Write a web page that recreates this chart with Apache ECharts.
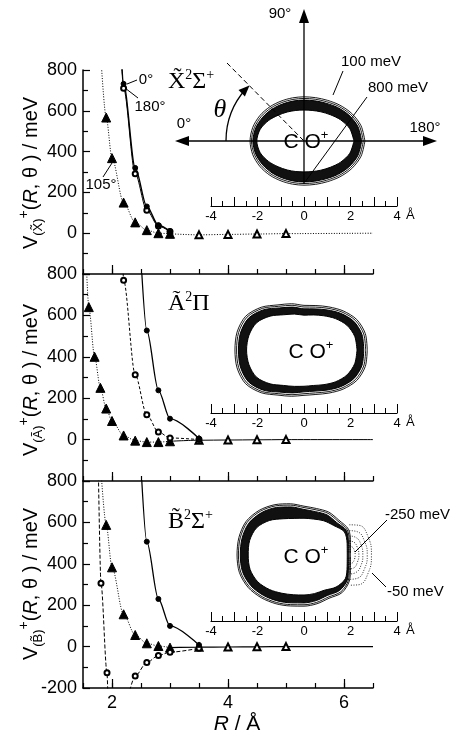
<!DOCTYPE html>
<html>
<head>
<meta charset="utf-8">
<script src="https://cdn.jsdelivr.net/npm/echarts@6/dist/echarts.min.js"></script>
<style>
  html, body { margin: 0; background: #fff; }
  #chart { width: 460px; height: 738px; }
</style>
</head>
<body>
<div id="chart"></div>
<script>
// ---- potential curves, R in Angstrom, V in meV ----
// X~ 2Sigma+ : 0 deg (filled circles), 180 deg (open circles), 105 deg (triangles)
const X_R_0 = [2.16, 2.2, 2.4, 2.6, 2.8, 3.0];
const X_V_0 = [870, 732, 320, 131, 39, 10];
const X_R_180 = [2.16, 2.2, 2.4, 2.6, 2.8, 3.0];
const X_V_180 = [850, 710, 292, 112, 35, 8];
const X_R_105 = [1.8, 1.9, 2.0, 2.2, 2.4, 2.6, 2.8, 3.0];
const X_V_105 = [900, 567, 368, 150, 53, 15, 0, -3];
const X_R_LONG = [3.0, 3.5, 4.0, 4.5, 5.0, 6.5];
const X_V_LONG = [-3, -8, -6, -4, -2, 0];

// A~ 2Pi
const A_R_CIRC = [2.5, 2.6, 2.8, 3.0, 3.5];
const A_V_CIRC = [870, 527, 238, 101, 5];
const A_R_OPEN = [2.18, 2.2, 2.4, 2.6, 2.8, 3.0, 3.5];
const A_V_OPEN = [900, 770, 313, 120, 37, 8, 0];
const A_R_TRI = [1.55, 1.6, 1.7, 1.8, 1.9, 2.0, 2.2, 2.4, 2.6, 2.8, 3.0];
const A_V_TRI = [900, 640, 400, 250, 150, 90, 20, -5, -12, -12, -8];
const A_R_LONG = [3.0, 3.5, 4.0, 4.5, 5.0, 6.5];
const A_V_LONG = [-8, -3, -2, -1, 0, 0];

// B~ 2Sigma+
const B_R_CIRC = [2.5, 2.6, 2.8, 3.0, 3.5];
const B_V_CIRC = [870, 507, 230, 100, 8];
const B_R_TRI = [1.8, 1.9, 2.0, 2.2, 2.4, 2.6, 2.8, 3.0];
const B_V_TRI = [890, 588, 383, 156, 56, 16, 3, -5];
const B_R_OPEN_IN = [1.765, 1.81, 1.914, 1.93];
const B_V_OPEN_IN = [850, 306, -126, -250];
const B_R_OPEN_OUT = [2.28, 2.4, 2.6, 2.8, 3.0, 3.5];
const B_V_OPEN_OUT = [-240, -142, -77, -43, -27, -8];
const B_R_LONG = [3.0, 3.5, 4.0, 4.5, 5.0, 6.5];
const B_V_LONG = [-5, -3, -2, -1, 0, 0];

const R_MAJOR = [2, 4, 6];

// ---- contour insets: radius (Angstrom) at every 15 degrees ----
const ANGLES = [0, 15, 30, 45, 60, 75, 90, 105, 120, 135, 150, 165, 180,
  195, 210, 225, 240, 255, 270, 285, 300, 315, 330, 345, 360];

const X_RING_OUT = [2.62, 2.54, 2.37, 2.18, 2.02, 1.93, 1.9, 1.92, 1.98, 2.08, 2.19, 2.28, 2.32,
  2.28, 2.19, 2.08, 1.98, 1.92, 1.9, 1.93, 2.02, 2.18, 2.37, 2.54, 2.62];
const X_RING_MID = [2.55, 2.47, 2.3, 2.11, 1.95, 1.86, 1.83, 1.85, 1.91, 2.01, 2.12, 2.21, 2.26,
  2.21, 2.12, 2.01, 1.91, 1.85, 1.83, 1.86, 1.95, 2.11, 2.3, 2.47, 2.55];
const X_BAND_OUT = [2.48, 2.4, 2.23, 2.04, 1.88, 1.79, 1.76, 1.78, 1.84, 1.94, 2.05, 2.15, 2.2,
  2.15, 2.05, 1.94, 1.84, 1.78, 1.76, 1.79, 1.88, 2.04, 2.23, 2.4, 2.48];
const X_BAND_IN = [2.15, 2.04, 1.82, 1.6, 1.45, 1.36, 1.33, 1.36, 1.44, 1.57, 1.76, 1.95, 2.03,
  1.95, 1.76, 1.57, 1.44, 1.36, 1.33, 1.36, 1.45, 1.6, 1.82, 2.04, 2.15];

const A_RING_OUT = [2.72, 2.73, 2.62, 2.38, 2.14, 1.98, 1.92, 2.06, 2.24, 2.6, 2.9, 2.98, 2.97,
  2.98, 2.9, 2.6, 2.24, 2.06, 1.95, 1.98, 2.14, 2.38, 2.62, 2.73, 2.72];
const A_RING_MID = [2.65, 2.66, 2.55, 2.31, 2.07, 1.91, 1.85, 1.99, 2.17, 2.53, 2.83, 2.91, 2.9,
  2.91, 2.83, 2.53, 2.17, 1.99, 1.88, 1.91, 2.07, 2.31, 2.55, 2.66, 2.65];
const A_BAND_OUT = [2.57, 2.58, 2.47, 2.23, 1.99, 1.83, 1.77, 1.91, 2.09, 2.45, 2.75, 2.83, 2.82,
  2.83, 2.75, 2.45, 2.09, 1.91, 1.8, 1.83, 1.99, 2.23, 2.47, 2.58, 2.57];
const A_BAND_IN = [2.28, 2.26, 2.13, 1.91, 1.7, 1.56, 1.5, 1.6, 1.75, 2.06, 2.35, 2.45, 2.47,
  2.45, 2.35, 2.06, 1.76, 1.62, 1.56, 1.58, 1.72, 1.93, 2.14, 2.26, 2.28];

const B_RING_OUT = [2.0, 2.07, 2.21, 2.12, 2.13, 2.07, 2.1, 2.28, 2.5, 2.72, 2.88, 2.9, 2.88,
  2.88, 2.78, 2.6, 2.42, 2.27, 2.2, 2.17, 2.15, 2.3, 2.25, 2.07, 2.0];
const B_RING_MID = [1.95, 2.02, 2.15, 2.06, 2.07, 2.01, 2.04, 2.22, 2.44, 2.66, 2.82, 2.84, 2.82,
  2.82, 2.72, 2.54, 2.36, 2.21, 2.14, 2.11, 2.09, 2.24, 2.2, 2.02, 1.95];
const B_BAND_OUT = [1.92, 1.98, 2.1, 1.98, 1.99, 1.93, 1.96, 2.14, 2.36, 2.58, 2.74, 2.76, 2.74,
  2.74, 2.64, 2.46, 2.28, 2.13, 2.06, 2.03, 2.01, 2.16, 2.15, 1.98, 1.92];
const B_BAND_IN = [1.86, 1.92, 2.0, 1.8, 1.7, 1.6, 1.58, 1.63, 1.8, 2.1, 2.35, 2.42, 2.4,
  2.4, 2.3, 2.1, 1.9, 1.77, 1.72, 1.72, 1.75, 1.95, 2.05, 1.92, 1.86];

// attractive lobe of B~ (dotted contours, -50 ... -250 meV), [x, y] in Angstrom
const B_LOBES = [
  [[1.95, 1.3], [2.35, 1.28], [2.75, 0.8], [2.9, 0], [2.75, -0.8], [2.35, -1.28], [1.95, -1.3]],
  [[1.95, 1.05], [2.3, 1.0], [2.6, 0.6], [2.72, 0], [2.6, -0.6], [2.3, -1.0], [1.95, -1.05]],
  [[1.95, 0.82], [2.22, 0.76], [2.45, 0.45], [2.53, 0], [2.45, -0.45], [2.22, -0.76], [1.95, -0.82]],
  [[1.95, 0.6], [2.15, 0.55], [2.3, 0.3], [2.36, 0], [2.3, -0.3], [2.15, -0.55], [1.95, -0.6]],
  [[1.95, 0.38], [2.08, 0.34], [2.17, 0.18], [2.2, 0], [2.17, -0.18], [2.08, -0.34], [1.95, -0.38]]
];

const SANS = '"Liberation Sans", Arial, sans-serif';
const SERIF = '"Liberation Serif", "Times New Roman", serif';

const chart = echarts.init(document.getElementById('chart'));

const mainGrids = [
  { left: 83, width: 290, top: 70, height: 204, outerBoundsMode: 'none' },
  { left: 83, width: 290, top: 274, height: 207, outerBoundsMode: 'none' },
  { left: 83, width: 290, top: 481, height: 207, outerBoundsMode: 'none' }
];
const insetGrids = [
  { left: 211, width: 186, top: 146, height: 60, outerBoundsMode: 'none' },
  { left: 211, width: 186, top: 353, height: 60, outerBoundsMode: 'none' },
  { left: 211, width: 186, top: 489, height: 132, outerBoundsMode: 'none' }
];

function rAxis(i) {
  return {
    type: 'value', gridIndex: i, min: 1.5, max: 6.5, interval: 0.5,
    axisLine: { onZero: false, lineStyle: { color: '#000', width: 1.5 } },
    axisTick: { inside: true, length: 5, lineStyle: { color: '#000', width: 1.2 } },
    axisLabel: {
      show: i === 2, color: '#000', fontFamily: SANS, fontSize: 18, margin: 6,
      formatter: v => (R_MAJOR.indexOf(v) >= 0 ? String(v) : '')
    },
    splitLine: { show: false }
  };
}
function rMajorAxis(i) {
  return {
    type: 'value', gridIndex: i, min: 1.5, max: 6.5, position: 'bottom',
    axisLine: { show: false, onZero: false },
    axisTick: { inside: true, length: 9, customValues: R_MAJOR, lineStyle: { color: '#000', width: 1.2 } },
    axisLabel: { show: false },
    splitLine: { show: false }
  };
}
function vAxis(i) {
  return {
    type: 'value', gridIndex: i, min: -200, max: 800, interval: 200,
    axisLine: { onZero: false, lineStyle: { color: '#000', width: 1.5 } },
    axisTick: { inside: true, length: 7, lineStyle: { color: '#000', width: 1.2 } },
    minorTick: { show: true, splitNumber: 2, length: 5, lineStyle: { color: '#000', width: 1.2 } },
    axisLabel: {
      color: '#000', fontFamily: SANS, fontSize: 18, margin: 6,
      formatter: v => (i < 2 && v === -200 ? '' : String(v))
    },
    splitLine: { show: false }
  };
}
function scaleAxis(i) {
  return {
    type: 'value', gridIndex: 3 + i, min: -4, max: 4, interval: 1,
    name: 'Å', nameLocation: 'end', nameGap: 9,
    nameTextStyle: { color: '#000', fontFamily: SANS, fontSize: 13, verticalAlign: 'top', padding: [3, 0, 0, 0] },
    axisLine: { onZero: false, lineStyle: { color: '#000', width: 1.2 } },
    axisTick: { inside: true, length: 9, lineStyle: { color: '#000', width: 1 } },
    minorTick: { show: true, splitNumber: 2, length: 5, lineStyle: { color: '#000', width: 1 } },
    axisLabel: {
      color: '#000', fontFamily: SANS, fontSize: 13, margin: 4,
      formatter: v => (v % 2 === 0 ? String(v) : '')
    },
    splitLine: { show: false }
  };
}

function curve(g, rs, vs, symbol, size, dash, width, bare) {
  const data = rs.map((r, i) => {
    const v = vs[i];
    const hide = v > 800 || v < -200 || (bare && (i === 0 || i === rs.length - 1));
    return hide ? { value: [r, v], symbol: 'none' } : [r, v];
  });
  return {
    type: 'line', xAxisIndex: g, yAxisIndex: g, data: data,
    symbol: symbol, symbolSize: size, smooth: 0.3, smoothMonotone: 'x', clip: true,
    lineStyle: { color: '#000', width: width, type: dash },
    itemStyle: { color: '#000', borderColor: '#000', borderWidth: 1 },
    z: 3
  };
}
function ring(p, radii, width, fill) {
  return {
    type: 'line', coordinateSystem: 'polar', polarIndex: p,
    data: radii.map((r, i) => [r, ANGLES[i]]),
    symbol: 'none', smooth: 0.3,
    lineStyle: { color: '#000', width: width },
    areaStyle: fill ? { color: fill, opacity: 1 } : undefined,
    silent: true, z: 4
  };
}

const DOT = [1, 1.6];
const DASH = [3, 2];

const series = [
  // X panel
  curve(0, X_R_LONG, X_V_LONG, 'emptyTriangle', 7, DOT, 1, true),
  curve(0, X_R_105, X_V_105, 'triangle', 9, DOT, 1),
  curve(0, X_R_180, X_V_180, 'emptyCircle', 5, 'solid', 1),
  curve(0, X_R_0, X_V_0, 'circle', 5, 'solid', 1.4),
  // A panel
  curve(1, A_R_LONG, A_V_LONG, 'emptyTriangle', 7, 'solid', 1, true),
  curve(1, A_R_TRI, A_V_TRI, 'triangle', 9, DOT, 1),
  curve(1, A_R_OPEN, A_V_OPEN, 'emptyCircle', 5, DASH, 1),
  curve(1, A_R_CIRC, A_V_CIRC, 'circle', 5, 'solid', 1.3),
  // B panel
  curve(2, B_R_LONG, B_V_LONG, 'emptyTriangle', 7, 'solid', 1.2, true),
  curve(2, B_R_TRI, B_V_TRI, 'triangle', 9, DOT, 1),
  curve(2, B_R_OPEN_IN, B_V_OPEN_IN, 'emptyCircle', 5, [4, 2], 1),
  curve(2, B_R_OPEN_OUT, B_V_OPEN_OUT, 'emptyCircle', 5, [4, 2], 1),
  curve(2, B_R_CIRC, B_V_CIRC, 'circle', 5, 'solid', 1.3),
  // contour insets
  ring(0, X_BAND_OUT, 1, '#111'), ring(0, X_BAND_IN, 1, '#fff'),
  ring(0, X_RING_OUT, 0.9), ring(0, X_RING_MID, 0.9),
  ring(1, A_BAND_OUT, 1, '#111'), ring(1, A_BAND_IN, 1, '#fff'),
  ring(1, A_RING_OUT, 0.9), ring(1, A_RING_MID, 0.9),
  ring(2, B_BAND_OUT, 1, '#111'), ring(2, B_BAND_IN, 1, '#fff'),
  ring(2, B_RING_OUT, 0.9), ring(2, B_RING_MID, 0.9)
].concat(B_LOBES.map(pts => ({
  type: 'line', xAxisIndex: 8, yAxisIndex: 5, data: pts,
  symbol: 'none', smooth: 0.5, silent: true, z: 4,
  lineStyle: { color: '#000', width: 0.8, type: [1, 1.5] }
})));

// ---- annotations ----
const G = [];
function seg(x1, y1, x2, y2, w, dash) {
  G.push({ type: 'line', z: 20, shape: { x1: x1, y1: y1, x2: x2, y2: y2 },
    style: { stroke: '#000', lineWidth: w || 1, lineDash: dash || null } });
}
function head(pts) {
  G.push({ type: 'polygon', z: 20, shape: { points: pts }, style: { fill: '#000' } });
}
function txt(t, x, y, size, align, font) {
  G.push({ type: 'text', z: 21, x: x, y: y,
    style: { text: t, fill: '#000', font: font || (size + 'px ' + SANS),
      align: align || 'center', verticalAlign: 'middle' } });
}
function rich(t, x, y, rot, styles, align) {
  G.push({ type: 'text', z: 21, x: x, y: y, rotation: rot || 0,
    style: { text: t, fill: '#000', align: align || 'center', verticalAlign: 'middle', rich: styles } });
}

// top inset frame: axes, theta arc, dashed direction
seg(182, 141, 430, 141, 1.3);
head([[175, 141], [189, 136], [189, 146]]);
head([[437, 141], [423, 136], [423, 146]]);
seg(304, 184, 304, 18, 1.3);
head([[304, 9], [299, 23], [309, 23]]);
seg(227, 63, 304, 141, 1, [5, 3]);
G.push({ type: 'arc', z: 20, shape: { cx: 304, cy: 141, r: 78, startAngle: Math.PI, endAngle: Math.PI * 1.235, clockwise: true },
  style: { stroke: '#000', fill: null, lineWidth: 1.3 } });
head([[249.5, 85.5], [244.9, 96.5], [238.5, 90.1]]);
txt('θ', 220, 110, 26, 'center', 'italic 26px ' + SERIF);
txt('90°', 280, 14, 15);
txt('0°', 184, 124, 15);
txt('180°', 425, 128, 15);
txt('100 meV', 341, 62, 15, 'left');
txt('800 meV', 368, 88, 15, 'left');
seg(343, 71, 333, 95, 1);
seg(367, 97, 305, 182, 1);

// panel annotations
txt('0°', 146, 80, 15);
seg(127, 84, 137, 80, 1);
txt('180°', 150, 107, 15);
seg(125, 88, 138, 98, 1);
txt('105°', 101, 185, 15);
seg(103, 177, 112, 163, 1);
txt('-250 meV', 385, 515, 15, 'left');
seg(387, 520, 355, 552, 1);
txt('-50 meV', 387, 592, 15, 'left');
seg(386, 587, 372, 573, 1);

// state labels
const stateStyles = {
  b: { fontFamily: SERIF, fontSize: 24, fill: '#000', verticalAlign: 'bottom', lineHeight: 26 },
  s: { fontFamily: SERIF, fontSize: 14, fill: '#000', verticalAlign: 'top', lineHeight: 26 }
};
rich('{b|X\u0303}{s|2}{b|Σ}{s|+}', 168, 81, 0, stateStyles, 'left');
rich('{b|Ã}{s|2}{b|Π}', 168, 303, 0, stateStyles, 'left');
rich('{b|B\u0303}{s|2}{b|Σ}{s|+}', 168, 521, 0, stateStyles, 'left');

const coStyles = {
  a: { fontFamily: SANS, fontSize: 21, fill: '#000', verticalAlign: 'bottom', lineHeight: 24 },
  s: { fontFamily: SANS, fontSize: 13, fill: '#000', verticalAlign: 'top', lineHeight: 24 }
};
rich('{a|C O}{s|+}', 306, 141, 0, coStyles);
rich('{a|C O}{s|+}', 311, 351, 0, coStyles);
rich('{a|C O}{s|+}', 306, 556, 0, coStyles);

// axis titles
const titleStyles = {
  v: { fontFamily: SANS, fontSize: 20, fill: '#000', verticalAlign: 'middle', lineHeight: 28 },
  i: { fontFamily: SANS, fontStyle: 'italic', fontSize: 20, fill: '#000', verticalAlign: 'middle', lineHeight: 28 },
  s: { fontFamily: SANS, fontSize: 13, fill: '#000', verticalAlign: 'bottom', lineHeight: 28 },
  p: { fontFamily: SANS, fontSize: 14, fill: '#000', verticalAlign: 'top', lineHeight: 28 }
};
rich('{v|V}{s|(X\u0303)}{p|+}{v|(}{i|R}{v|, θ ) / meV}', 31, 173, Math.PI / 2, titleStyles);
rich('{v|V}{s|(Ã)}{p|+}{v|(}{i|R}{v|, θ ) / meV}', 31, 380, Math.PI / 2, titleStyles);
rich('{v|V}{s|(B\u0303)}{p|+}{v|(}{i|R}{v|, θ ) / meV}', 31, 584, Math.PI / 2, titleStyles);
rich('{i|R}{v| / Å}', 237, 724, 0, {
  v: { fontFamily: SANS, fontSize: 21, fill: '#000' },
  i: { fontFamily: SANS, fontStyle: 'italic', fontSize: 21, fill: '#000' }
});

const option = {
  backgroundColor: '#fff',
  animation: false,
  grid: mainGrids.concat(insetGrids),
  xAxis: [rAxis(0), rAxis(1), rAxis(2), rMajorAxis(0), rMajorAxis(1), rMajorAxis(2),
    scaleAxis(0), scaleAxis(1), scaleAxis(2)],
  yAxis: [vAxis(0), vAxis(1), vAxis(2),
    { type: 'value', gridIndex: 3, min: -1, max: 1, show: false },
    { type: 'value', gridIndex: 4, min: -1, max: 1, show: false },
    { type: 'value', gridIndex: 5, min: -2.84, max: 2.84, show: false }],
  polar: [
    { center: [304, 141], radius: 93 },
    { center: [304, 350], radius: 93 },
    { center: [304, 555], radius: 93 }
  ],
  angleAxis: [0, 1, 2].map(i => ({ polarIndex: i, type: 'value', min: 0, max: 360, startAngle: 0, clockwise: false, show: false })),
  radiusAxis: [0, 1, 2].map(i => ({ polarIndex: i, type: 'value', min: 0, max: 4, show: false })),
  series: series,
  graphic: { elements: G }
};

chart.setOption(option);
</script>
</body>
</html>
